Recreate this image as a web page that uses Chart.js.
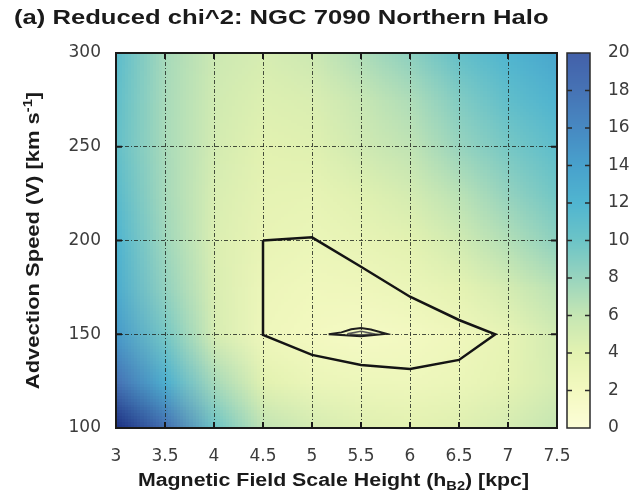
<!DOCTYPE html>
<html>
<head>
<meta charset="utf-8">
<script src="https://cdn.jsdelivr.net/npm/chart.js@4.4.1/dist/chart.umd.min.js"></script>
<style>
  html, body { margin: 0; padding: 0; background: #fff; }
  #wrap { width: 637px; height: 500px; }
</style>
</head>
<body>
<div id="wrap"><canvas id="chi2Map" width="637" height="500"></canvas></div>
<script>
// Fit grid: magnetic field scale height (kpc) x advection speed (km/s)
const scaleHeights = [3, 3.5, 4, 4.5, 5, 5.5, 6, 6.5, 7, 7.5];
const speeds = [100, 125, 150, 175, 200, 225, 250, 275, 300];

// Reduced chi^2, one row per speed (100 -> 300), one column per scale height
const chi2 = [
  [24.0, 18.5, 10.0, 6.2, 5.0, 4.3, 4.0, 4.3, 5.0, 6.0],
  [18.0, 12.5, 7.3, 4.0, 3.0, 2.7, 2.6, 3.0, 3.8, 5.0],
  [14.5, 9.5, 4.8, 2.5, 2.0, 1.6, 1.9, 2.5, 3.5, 5.2],
  [12.8, 8.2, 4.6, 2.8, 2.4, 2.5, 3.0, 3.8, 5.0, 6.5],
  [12.0, 7.6, 4.5, 3.3, 3.0, 3.4, 4.0, 5.2, 6.8, 8.5],
  [11.2, 7.3, 4.7, 3.6, 3.5, 4.2, 5.0, 6.5, 8.2, 9.8],
  [10.5, 7.2, 5.0, 4.0, 4.2, 5.3, 6.2, 8.0, 9.5, 11.0],
  [10.7, 7.2, 5.2, 4.4, 4.6, 5.8, 7.0, 9.0, 10.8, 12.2],
  [11.0, 7.3, 5.5, 4.8, 5.5, 7.0, 8.5, 10.5, 12.0, 13.5]
];

// Confidence contours (scale height, speed)
const outerContour = [
  {x: 4.5, y: 200}, {x: 5.0, y: 201.7}, {x: 5.5, y: 186}, {x: 6.0, y: 170},
  {x: 6.5, y: 157.6}, {x: 6.87, y: 150}, {x: 6.5, y: 136.3}, {x: 6.0, y: 131.5},
  {x: 5.5, y: 133.6}, {x: 5.0, y: 139}, {x: 4.5, y: 149.6}, {x: 4.5, y: 200}
];
const innerContour = [
  {x: 5.17, y: 150}, {x: 5.3, y: 151}, {x: 5.4, y: 152.7}, {x: 5.5, y: 153.3},
  {x: 5.6, y: 152.5}, {x: 5.76, y: 150.2}, {x: 5.5, y: 148.9}, {x: 5.17, y: 150}
];
const coreContour = [
  {x: 5.36, y: 150.3}, {x: 5.5, y: 151.6}, {x: 5.63, y: 150.3}, {x: 5.5, y: 149.6}, {x: 5.36, y: 150.3}
];

const xTicks = [3, 3.5, 4, 4.5, 5, 5.5, 6, 6.5, 7, 7.5];
const yTicks = [100, 150, 200, 250, 300];
const cbTicks = [0, 2, 4, 6, 8, 10, 12, 14, 16, 18, 20];

// colour map, value -> colour
const paletteStops = [
  [0, '#fcfdd7'], [2, '#f3f9c0'], [4, '#e3f2b1'], [6, '#c5e6b3'], [8, '#98d4be'],
  [10, '#6cc4c7'], [12, '#50b5d0'], [14, '#48a1cc'], [16, '#4789c2'], [18, '#4673b5'],
  [20, '#4360a9'], [22, '#2f4898'], [24, '#1c3081']
];

function hexToRgb(h) {
  return [parseInt(h.slice(1, 3), 16), parseInt(h.slice(3, 5), 16), parseInt(h.slice(5, 7), 16)];
}

function colorAt(v) {
  const first = paletteStops[0], last = paletteStops[paletteStops.length - 1];
  if (v <= first[0]) return hexToRgb(first[1]);
  if (v >= last[0]) return hexToRgb(last[1]);
  for (let i = 1; i < paletteStops.length; i++) {
    const [v1, c1] = paletteStops[i];
    if (v <= v1) {
      const [v0, c0] = paletteStops[i - 1];
      const t = (v - v0) / (v1 - v0);
      const a = hexToRgb(c0), b = hexToRgb(c1);
      return a.map((ch, k) => Math.round(ch + (b[k] - ch) * t));
    }
  }
}

const STRETCH = 1.22;
const TITLE_FONT = '"Liberation Sans", Arial, sans-serif';

// draws bold text pieces (with sub/superscripts) widened along the baseline
function drawRichText(ctx, parts, x, y, align) {
  ctx.save();
  ctx.translate(x, y);
  ctx.scale(STRETCH, 1);
  let width = 0;
  parts.forEach(p => {
    ctx.font = `bold ${p.size}px ${TITLE_FONT}`;
    width += ctx.measureText(p.text).width;
  });
  let cx = align === 'center' ? -width / 2 : 0;
  ctx.textAlign = 'left';
  parts.forEach(p => {
    ctx.font = `bold ${p.size}px ${TITLE_FONT}`;
    ctx.fillText(p.text, cx, p.shift || 0);
    cx += ctx.measureText(p.text).width;
  });
  ctx.restore();
}

const heatmapPlugin = {
  id: 'heatmap',
  beforeDraw(chart) {
    const {ctx, chartArea, scales: {x, y}} = chart;
    const cols = scaleHeights.length, rows = speeds.length;
    const off = document.createElement('canvas');
    off.width = cols;
    off.height = rows;
    const octx = off.getContext('2d');
    const img = octx.createImageData(cols, rows);
    for (let r = 0; r < rows; r++) {
      const row = chi2[rows - 1 - r];
      for (let c = 0; c < cols; c++) {
        const rgb = colorAt(row[c]);
        const i = (r * cols + c) * 4;
        img.data[i] = rgb[0];
        img.data[i + 1] = rgb[1];
        img.data[i + 2] = rgb[2];
        img.data[i + 3] = 255;
      }
    }
    octx.putImageData(img, 0, 0);

    // pixel centres sit on the grid nodes
    const dx = (scaleHeights[1] - scaleHeights[0]) / 2;
    const dy = (speeds[1] - speeds[0]) / 2;
    const left = x.getPixelForValue(scaleHeights[0] - dx);
    const right = x.getPixelForValue(scaleHeights[cols - 1] + dx);
    const top = y.getPixelForValue(speeds[rows - 1] + dy);
    const bottom = y.getPixelForValue(speeds[0] - dy);

    ctx.save();
    ctx.beginPath();
    ctx.rect(chartArea.left, chartArea.top, chartArea.width, chartArea.height);
    ctx.clip();
    ctx.imageSmoothingEnabled = true;
    ctx.imageSmoothingQuality = 'low';
    ctx.drawImage(off, left, top, right - left, bottom - top);
    ctx.restore();
  }
};

const overlayPlugin = {
  id: 'overlay',
  afterDraw(chart) {
    const {ctx, chartArea: a, scales: {x, y, cb}} = chart;
    ctx.save();

    // plot frame with inward major ticks
    ctx.strokeStyle = '#1a1a1a';
    ctx.lineWidth = 2;
    ctx.strokeRect(a.left, a.top, a.width, a.height);
    ctx.beginPath();
    xTicks.forEach(v => {
      const px = x.getPixelForValue(v);
      ctx.moveTo(px, a.bottom); ctx.lineTo(px, a.bottom - 6);
      ctx.moveTo(px, a.top); ctx.lineTo(px, a.top + 6);
    });
    yTicks.forEach(v => {
      const py = y.getPixelForValue(v);
      ctx.moveTo(a.left, py); ctx.lineTo(a.left + 6, py);
      ctx.moveTo(a.right, py); ctx.lineTo(a.right - 6, py);
    });
    ctx.stroke();

    // colour box
    const barL = a.right + 10, barW = 23;
    const cTop = cb.getPixelForValue(cbTicks[cbTicks.length - 1]);
    const cBottom = cb.getPixelForValue(cbTicks[0]);
    for (let py = Math.floor(cTop); py < cBottom; py++) {
      const rgb = colorAt(cb.getValueForPixel(py + 0.5));
      ctx.fillStyle = `rgb(${rgb[0]},${rgb[1]},${rgb[2]})`;
      ctx.fillRect(barL, py, barW, 1);
    }
    ctx.strokeStyle = '#2a2a2a';
    ctx.lineWidth = 1.5;
    ctx.strokeRect(barL, cTop, barW, cBottom - cTop);
    ctx.beginPath();
    cbTicks.slice(1, -1).forEach(v => {
      const py = cb.getPixelForValue(v);
      ctx.moveTo(barL, py); ctx.lineTo(barL + 5, py);
      ctx.moveTo(barL + barW, py); ctx.lineTo(barL + barW - 5, py);
    });
    ctx.stroke();

    // titles
    ctx.fillStyle = '#1a1a1a';
    ctx.textBaseline = 'alphabetic';
    drawRichText(ctx, [{text: '(a) Reduced chi^2: NGC 7090 Northern Halo', size: 21}], 14, 24, 'left');

    const midX = (a.left + a.right) / 2;
    drawRichText(ctx, [
      {text: 'Magnetic Field Scale Height (h', size: 17.5},
      {text: 'B2', size: 12, shift: 4},
      {text: ') [kpc]', size: 17.5}
    ], midX - 3, 486, 'center');

    ctx.save();
    ctx.translate(33, (a.top + a.bottom) / 2);
    ctx.rotate(-Math.PI / 2);
    drawRichText(ctx, [
      {text: 'Advection Speed (V) [km s', size: 18},
      {text: '-1', size: 12, shift: -7},
      {text: ']', size: 18}
    ], 0, 6, 'center');
    ctx.restore();

    ctx.restore();
  }
};

const tickFont = {family: '"DejaVu Sans", sans-serif', size: 17};
const tickColor = '#3c3c3c';
const gridColor = 'rgba(30, 36, 30, 0.8)';
const gridDash = [4, 2, 1, 2];

const contourLine = (data, color, width) => ({
  data: data,
  showLine: true,
  borderColor: color,
  borderWidth: width,
  pointRadius: 0,
  tension: 0,
  fill: false
});

new Chart(document.getElementById('chi2Map'), {
  type: 'scatter',
  data: {
    datasets: [
      contourLine(outerContour, '#141414', 2.5),
      contourLine(innerContour, '#1e1e1e', 2),
      contourLine(coreContour, '#555', 1.5)
    ]
  },
  options: {
    responsive: false,
    animation: false,
    layout: { padding: { top: 53, left: 0, right: 0, bottom: 0 } },
    plugins: {
      legend: { display: false },
      tooltip: { enabled: false },
      title: { display: false }
    },
    scales: {
      x: {
        type: 'linear',
        position: 'bottom',
        min: 3,
        max: 7.5,
        afterBuildTicks: s => { s.ticks = xTicks.map(v => ({ value: v })); },
        afterFit: s => { s.height = 72; },
        grid: { color: gridColor, lineWidth: 1, drawTicks: false },
        border: { display: false, dash: gridDash },
        ticks: { color: tickColor, font: tickFont, padding: 18, maxRotation: 0, autoSkip: false, callback: v => String(v) }
      },
      y: {
        type: 'linear',
        position: 'left',
        min: 100,
        max: 300,
        afterBuildTicks: s => { s.ticks = yTicks.map(v => ({ value: v })); },
        afterFit: s => { s.width = 116; },
        grid: { color: gridColor, lineWidth: 1, drawTicks: false },
        border: { display: false, dash: gridDash },
        ticks: { color: tickColor, font: tickFont, padding: 15, autoSkip: false, callback: v => String(v) }
      },
      cb: {
        type: 'linear',
        axis: 'y',
        position: 'right',
        min: 0,
        max: 20,
        afterBuildTicks: s => { s.ticks = cbTicks.map(v => ({ value: v })); },
        afterFit: s => { s.width = 80; },
        // the hidden tick length pushes the labels past the colour box
        grid: { display: false, drawTicks: true, tickLength: 43 },
        border: { display: false },
        ticks: { color: tickColor, font: tickFont, padding: 8, autoSkip: false, callback: v => String(v) }
      }
    }
  },
  plugins: [heatmapPlugin, overlayPlugin]
});
</script>
</body>
</html>
